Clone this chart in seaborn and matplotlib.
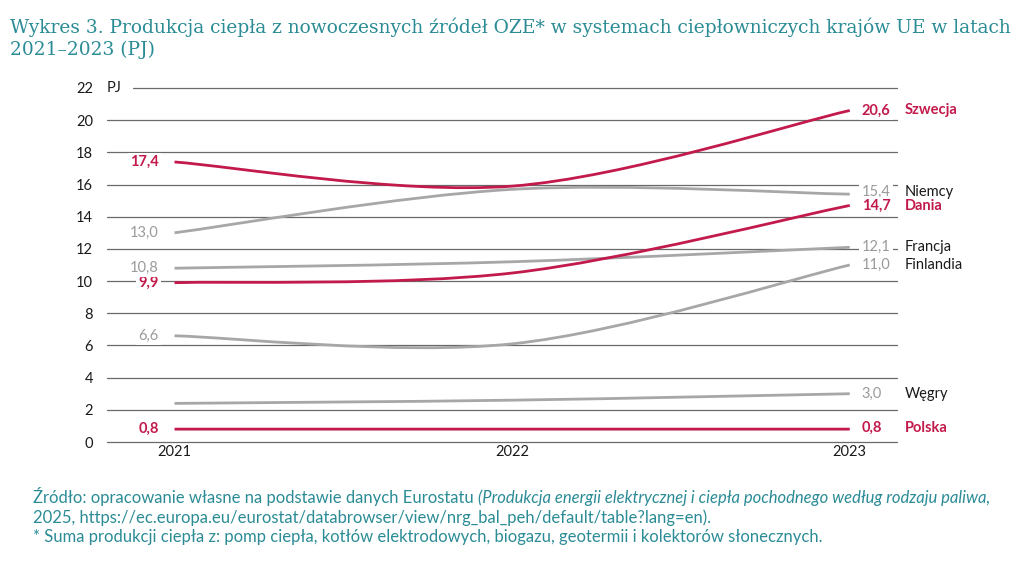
import matplotlib
matplotlib.use('Agg')
import matplotlib.pyplot as plt
import seaborn as sns
from matplotlib.path import Path
from matplotlib.patches import PathPatch

sns.set_theme(style='white')
plt.rcParams['font.family'] = ['Lato', 'DejaVu Sans']

# dane (PJ)
years = [2021, 2022, 2023]
szwecja = [17.4, 15.9, 20.6]
niemcy = [13.0, 15.7, 15.4]
dania = [9.9, 10.5, 14.7]
francja = [10.8, 11.2, 12.1]
finlandia = [6.6, 6.1, 11.0]
wegry = [2.4, 2.6, 3.0]
polska = [0.8, 0.8, 0.8]

start_labels = ['17,4', '13,0', '9,9', '10,8', '6,6', None, '0,8']
end_labels = ['20,6', '15,4', '14,7', '12,1', '11,0', '3,0', '0,8']
names = ['Szwecja', 'Niemcy', 'Dania', 'Francja', 'Finlandia', 'Węgry', 'Polska']
series = [szwecja, niemcy, dania, francja, finlandia, wegry, polska]
highlight = [True, False, True, False, False, False, True]
yticks = [0, 2, 4, 6, 8, 10, 12, 14, 16, 18, 20, 22]

RED = '#C21A4B'
GREY = '#A7A7A7'
TEAL = '#2B8C96'

# small label nudges (y offsets in data units) for readability
end_nudge = [0, 0.15, -0.05, 0, 0, 0, 0.1]


def smooth_path(xs, ys):
    # Excel-like smoothed line: cubic bezier segments through the points
    pts = list(zip(xs, ys))
    verts = [pts[0]]
    codes = [Path.MOVETO]
    n = len(pts)
    for i in range(n - 1):
        p0 = pts[max(i - 1, 0)]
        p1 = pts[i]
        p2 = pts[i + 1]
        p3 = pts[min(i + 2, n - 1)]
        c1 = (p1[0] + (p2[0] - p0[0]) / 6, p1[1] + (p2[1] - p0[1]) / 6)
        c2 = (p2[0] - (p3[0] - p1[0]) / 6, p2[1] - (p3[1] - p1[1]) / 6)
        verts += [c1, c2, p2]
        codes += [Path.CURVE4] * 3
    return Path(verts, codes)


fig = plt.figure(figsize=(10.24, 5.62), dpi=100)
ax = fig.add_axes([0.1045, 0.2135, 0.7715, 0.63])
ax.set_xlim(2020.8, 2023.14)
ax.set_ylim(0, 22)

# gridlines
for y in yticks:
    ax.axhline(y, xmin=0.033 if y == 22 else 0, xmax=1, color='#6A6A6A', lw=0.9,
               zorder=1, clip_on=False)

# grey lines first, red on top
order = [i for i in range(len(series)) if not highlight[i]] + [i for i in range(len(series)) if highlight[i]]
for i in order:
    col = RED if highlight[i] else GREY
    patch = PathPatch(smooth_path(years, series[i]), fill=False, edgecolor=col,
                      lw=2.0, capstyle='butt', zorder=3 if highlight[i] else 2)
    ax.add_patch(patch)

# labels
for i, vals in enumerate(series):
    col = RED if highlight[i] else '#9A9A9A'
    weight = 'bold' if highlight[i] else 'normal'
    if start_labels[i]:
        ax.annotate(start_labels[i], xy=(years[0], vals[0]), xytext=(-11.5, 0),
                    textcoords='offset points', ha='right', va='center', fontsize=10.5,
                    color=col, fontweight=weight, zorder=4,
                    bbox=dict(boxstyle='square,pad=0.15', fc='white', ec='none'))
    ax.annotate(end_labels[i], xy=(years[-1], vals[-1] + end_nudge[i]), xytext=(8.5, 0),
                textcoords='offset points', ha='left', va='center', fontsize=10.5,
                color=col, fontweight=weight, zorder=4,
                bbox=dict(boxstyle='square,pad=0.15', fc='white', ec='none'))
    ax.annotate(names[i], xy=(years[-1], vals[-1] + end_nudge[i]), xytext=(39.5, 0),
                textcoords='offset points', ha='left', va='center', fontsize=10.5,
                color=RED if highlight[i] else '#1A1A1A', fontweight=weight,
                annotation_clip=False)

ax.set_yticks(yticks)
ax.set_xticks(years)
ax.set_xticklabels([str(y) for y in years])
ax.tick_params(axis='y', length=0, pad=10, labelsize=10.5, labelcolor='#1A1A1A')
ax.tick_params(axis='x', length=0, pad=2.5, labelsize=10.5, labelcolor='#1A1A1A')
for s in ax.spines.values():
    s.set_visible(False)
ax.text(0.0, 22, 'PJ', transform=ax.get_yaxis_transform(), ha='left', va='center',
        fontsize=10.5, color='#1A1A1A')

# title
fig.text(0.0098, 0.968, 'Wykres 3. Produkcja ciepła z nowoczesnych źródeł OZE* w systemach ciepłowniczych krajów UE w latach\n2021–2023 (PJ)',
         ha='left', va='top', fontsize=13.4, color=TEAL, family=['DejaVu Serif'], linespacing=1.25)

# footer
fs = 12
t1 = fig.text(0.032, 0.105, 'Źródło: opracowanie własne na podstawie danych Eurostatu ',
              ha='left', va='baseline', fontsize=fs, color=TEAL)
ax.annotate('(Produkcja energii elektrycznej i ciepła pochodnego według rodzaju paliwa,',
            xy=(1, 0), xycoords=t1, va='bottom', ha='left', fontsize=fs, color=TEAL,
            style='italic', annotation_clip=False)
fig.text(0.032, 0.07, '2025, https://ec.europa.eu/eurostat/databrowser/view/nrg_bal_peh/default/table?lang=en).',
         ha='left', va='baseline', fontsize=fs, color=TEAL)
fig.text(0.032, 0.035, '* Suma produkcji ciepła z: pomp ciepła, kotłów elektrodowych, biogazu, geotermii i kolektorów słonecznych.',
         ha='left', va='baseline', fontsize=fs, color=TEAL)

plt.savefig('out.png', dpi=100)
